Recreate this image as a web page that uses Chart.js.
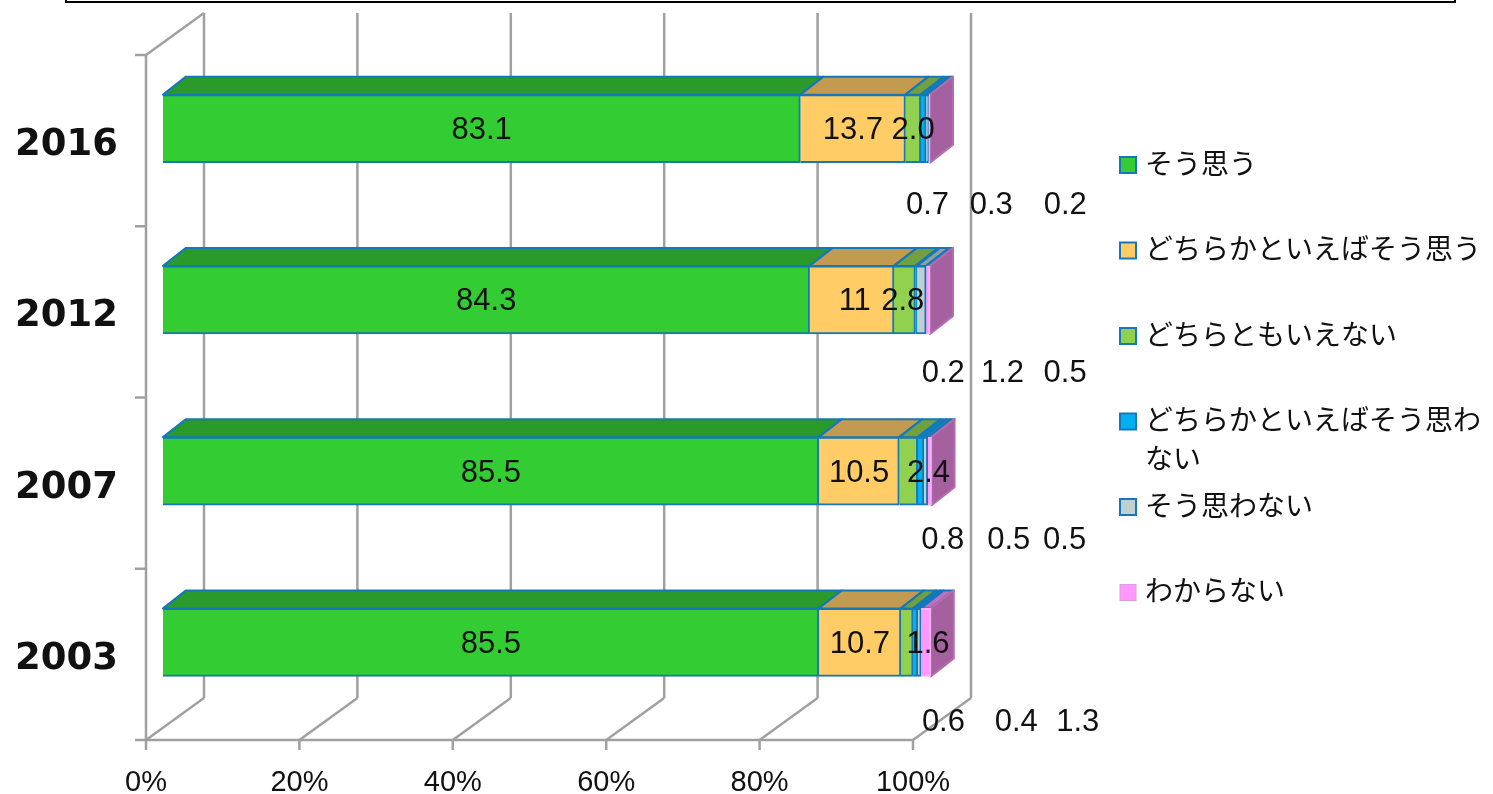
<!DOCTYPE html>
<html lang="ja">
<head>
<meta charset="utf-8">
<title>chart</title>
<script src="https://cdn.jsdelivr.net/npm/chart.js@4"></script>
<style>
  html, body { margin:0; padding:0; background:#fff; }
  canvas { display:block; }
</style>
</head>
<body>
<canvas id="c" width="1493" height="794"></canvas>
<script>
const years = ['2016', '2012', '2007', '2003'];
const seriesNames = ['そう思う', 'どちらかといえばそう思う', 'どちらともいえない', 'どちらかといえばそう思わない', 'そう思わない', 'わからない'];
const souOmou      = [83.1, 84.3, 85.5, 85.5];
const dochiraYes   = [13.7, 11, 10.5, 10.7];
const dochiraMo    = [2.0, 2.8, 2.4, 1.6];
const dochiraNo    = [0.7, 0.2, 0.8, 0.6];
const souOmowanai  = [0.3, 1.2, 0.5, 0.4];
const wakaranai    = [0.2, 0.5, 0.5, 1.3];
const seriesValues = [souOmou, dochiraYes, dochiraMo, dochiraNo, souOmowanai, wakaranai];
const xTicks = [0, 20, 40, 60, 80, 100];

const frontColors = ['#33CC33', '#FFCC66', '#92D050', '#00B0F0', '#C0D0D0', '#FF99FF'];
const topColors   = ['#2A9A2A', '#C29B50', '#729F3F', '#0084C4', '#90A0A0', '#C070C0'];
const edgeColor = '#1578B8';
const gridColor = '#A0A0A0';
const sideColor = '#A5609F';

// how far each value label sits from the middle of its segment [year][series]
const nudgeX = [
  [0, 0, 0, 4, 64, 136],
  [0, 3, -2, 27, 81, 137],
  [0, 0, 20, 22, 83, 135],
  [0, 0, 21, 28, 97, 152]
];
const nudgeY = [75, 72, 67, 78]; // small labels under the bars, per year

const BAR_DX = 17, BAR_DY = 12;   // bars sit this far inside the floor
const WALL_DX = 58, WALL_DY = 42; // back wall offset
const TOP_DX = 23, TOP_DY = 18;   // depth of a bar

function line(ctx, x1, y1, x2, y2){
  ctx.beginPath(); ctx.moveTo(x1, y1); ctx.lineTo(x2, y2); ctx.stroke();
}

function face(ctx, pts, fill){
  ctx.beginPath();
  pts.forEach((p, i) => i ? ctx.lineTo(p[0], p[1]) : ctx.moveTo(p[0], p[1]));
  ctx.closePath();
  ctx.fillStyle = fill;
  ctx.fill();
  ctx.stroke();
}

const box3d = {
  id: 'box3d',
  beforeDatasetsDraw(chart){
    const { ctx, scales:{ x, y } } = chart;
    const top = y.top + BAR_DY, bottom = y.bottom + BAR_DY;
    ctx.save();

    // outline left over from the title box
    ctx.strokeStyle = '#000'; ctx.lineWidth = 2;
    ctx.beginPath(); ctx.moveTo(66, 0); ctx.lineTo(66, 2); ctx.lineTo(1455, 2); ctx.lineTo(1455, 0); ctx.stroke();

    // walls
    ctx.strokeStyle = gridColor; ctx.lineWidth = 2.5;
    xTicks.forEach(v => {
      const px = x.getPixelForValue(v) - BAR_DX;
      line(ctx, px, bottom, px + WALL_DX, bottom - WALL_DY);
      line(ctx, px + WALL_DX, bottom - WALL_DY, px + WALL_DX, top - WALL_DY);
      line(ctx, px, bottom, px, bottom + 10);
    });
    const x0 = x.getPixelForValue(0) - BAR_DX, x100 = x.getPixelForValue(100) - BAR_DX;
    line(ctx, x0, bottom, x100, bottom);
    line(ctx, x0, top, x0, bottom);
    line(ctx, x0, top, x0 + WALL_DX, top - WALL_DY);
    years.forEach((_, i) => {
      const py = y.getPixelForTick(i) + y.height / years.length / 2 + BAR_DY;
      line(ctx, x0 - 11, py, x0, py);
    });
    line(ctx, x0 - 11, top, x0, top);

    // bar tops and ends, behind the front faces
    ctx.strokeStyle = edgeColor; ctx.lineWidth = 2; ctx.lineJoin = 'round';
    chart.getSortedVisibleDatasetMetas().forEach((meta, s) => {
      meta.data.forEach(bar => {
        const h = bar.height / 2, t = bar.y - h;
        face(ctx, [[bar.base, t], [bar.x, t], [bar.x + TOP_DX, t - TOP_DY], [bar.base + TOP_DX, t - TOP_DY]], topColors[s]);
        if (s === seriesValues.length - 1) {
          ctx.save();
          ctx.strokeStyle = '#B36CAE';
          face(ctx, [[bar.x, t], [bar.x + TOP_DX, t - TOP_DY], [bar.x + TOP_DX, bar.y + h - TOP_DY], [bar.x, bar.y + h]], sideColor);
          ctx.restore();
        }
      });
    });
    ctx.restore();
  },
  afterDatasetsDraw(chart){
    const { ctx } = chart;
    ctx.save();

    // value labels
    ctx.fillStyle = '#111';
    ctx.font = '31px "Liberation Sans", Arial, sans-serif';
    ctx.textAlign = 'center'; ctx.textBaseline = 'middle';
    chart.getSortedVisibleDatasetMetas().forEach((meta, s) => {
      meta.data.forEach((bar, i) => {
        const v = seriesValues[s][i];
        const cx = (bar.base + bar.x) / 2 + nudgeX[i][s];
        const cy = bar.y + 2 + (s > 2 ? nudgeY[i] : 0);
        ctx.fillText(s === 2 && v === 2 ? '2.0' : String(v), cx, cy);
      });
    });

    // legend on the right, long names wrap after 12 characters
    ctx.font = '28px "Noto Sans CJK JP", sans-serif';
    ctx.textAlign = 'left';
    seriesNames.forEach((name, s) => {
      const ly = 165 + s * 85.5;
      ctx.fillStyle = frontColors[s];
      ctx.strokeStyle = s === 5 ? '#D9A0D9' : edgeColor;
      ctx.lineWidth = s === 5 ? 1 : 2;
      ctx.fillRect(1120, ly - 8, 16, 16);
      ctx.strokeRect(1120, ly - 8, 16, 16);
      ctx.fillStyle = '#111';
      ctx.fillText(name.slice(0, 12), 1145, ly - 2);
      if (name.length > 12) ctx.fillText(name.slice(12), 1145, ly + 37);
    });
    ctx.restore();
  }
};

new Chart(document.getElementById('c'), {
  type: 'bar',
  plugins: [box3d],
  data: {
    labels: years,
    datasets: seriesNames.map((label, s) => ({
      label,
      data: seriesValues[s],
      backgroundColor: frontColors[s],
      borderColor: s === 5 ? '#FFB0FF' : edgeColor,
      borderWidth: 2,
      barThickness: 68,
      clip: false
    }))
  },
  options: {
    indexAxis: 'y',
    responsive: false,
    animation: false,
    layout: { padding: { top: 43, right: 563, left: 0, bottom: 0 } },
    plugins: { legend: { display: false }, tooltip: { enabled: false } },
    scales: {
      x: {
        stacked: true, min: 0, max: 100,
        grid: { display: false }, border: { display: false },
        afterBuildTicks: s => { s.ticks = xTicks.map(value => ({ value })); },
        afterFit: s => { s.height = 66; s.paddingLeft = 0; s.paddingRight = 0; },
        ticks: {
          callback: v => v + '%',
          color: '#111', padding: 30, labelOffset: -17, maxRotation: 0, autoSkip: false,
          font: { family: '"Liberation Sans", Arial, sans-serif', size: 29 }
        }
      },
      y: {
        stacked: true,
        grid: { display: false }, border: { display: false },
        afterFit: s => { s.width = 163; s.paddingTop = 0; s.paddingBottom = 0; },
        ticks: {
          color: '#111', padding: 37, labelOffset: 17, autoSkip: false,
          font: { family: '"DejaVu Sans", sans-serif', size: 37, weight: 'bold' }
        }
      }
    }
  }
});
</script>
</body>
</html>
